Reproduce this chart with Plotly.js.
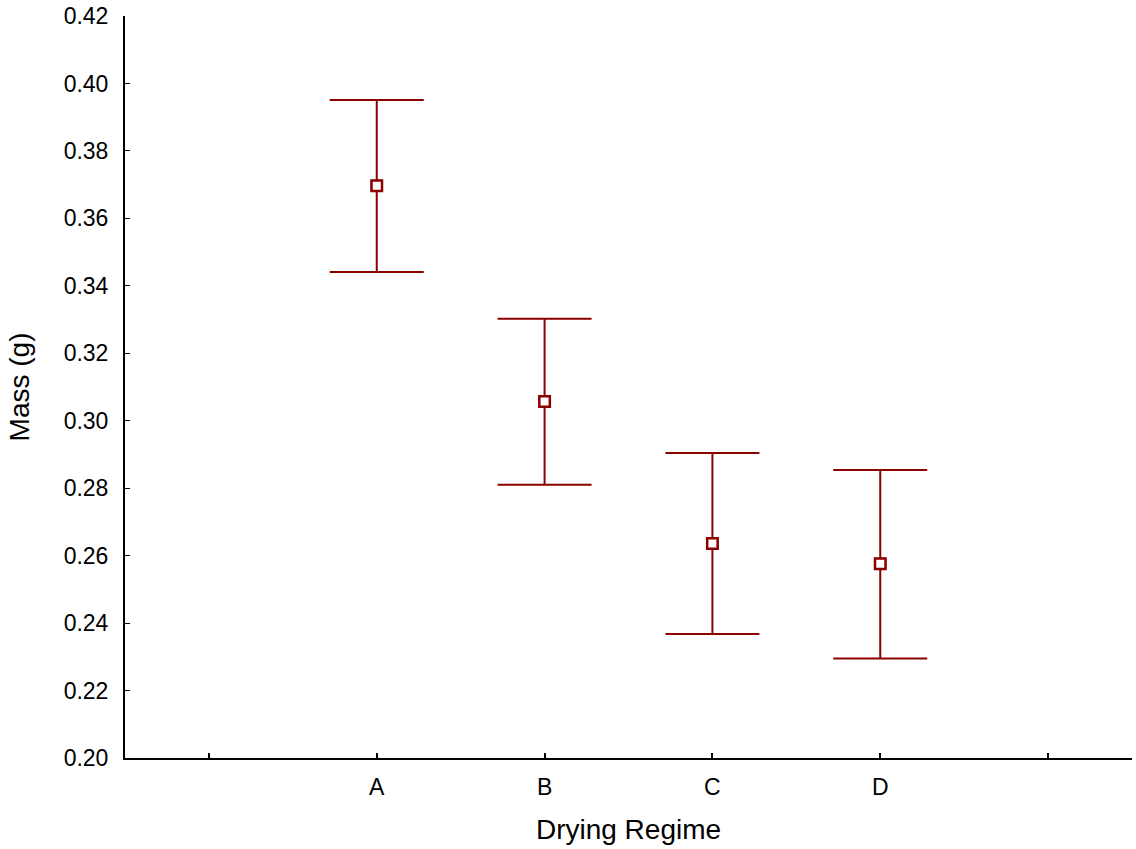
<!DOCTYPE html>
<html>
<head>
<meta charset="utf-8">
<script src="https://cdn.plot.ly/plotly-3.0.1.min.js"></script>
<style>html,body{margin:0;padding:0;background:#fff;}#chart{width:1136px;height:849px;}</style>
</head>
<body>
<div id="chart"></div>
<script>
var categories = ["A", "B", "C", "D"];
var positions = [1, 2, 3, 4];
var means = [0.3697, 0.3057, 0.2636, 0.2576];
var upper = [0.3951, 0.3302, 0.2904, 0.2854];
var lower = [0.3441, 0.2810, 0.2368, 0.2295];
var tickVals = [0, 1, 2, 3, 4, 5];
var tickText = ["", "A", "B", "C", "D", ""];
var yTicks = [0.20, 0.22, 0.24, 0.26, 0.28, 0.30, 0.32, 0.34, 0.36, 0.38, 0.40, 0.42];

var plus = upper.map(function(u, i){ return u - means[i]; });
var minus = lower.map(function(l, i){ return means[i] - l; });
var red = "#8B0000";

var trace = {
  x: positions, y: means, type: "scatter", mode: "markers",
  marker: {symbol: "square-open", size: 11, color: red, line: {width: 2, color: red}},
  error_y: {type: "data", symmetric: false, array: plus, arrayminus: minus, color: red, thickness: 2, width: 47},
  hoverinfo: "skip", showlegend: false
};
var fill = {
  x: positions, y: means, type: "scatter", mode: "markers",
  marker: {symbol: "square", size: 10, color: "#ffffff", line: {width: 2, color: red}},
  hoverinfo: "skip", showlegend: false
};

var font = "Liberation Sans, Arial, sans-serif";
var layout = {
  width: 1136, height: 849,
  margin: {l: 125, r: 4, t: 16, b: 91},
  paper_bgcolor: "#fff", plot_bgcolor: "#fff",
  font: {family: font, size: 23, color: "#000"},
  xaxis: {
    range: [-0.5, 5.5], tickvals: tickVals, ticktext: tickText,
    showgrid: false, zeroline: false, showline: true, linecolor: "#000", linewidth: 2,
    ticks: "inside", ticklen: 5, tickwidth: 2, tickcolor: "#000",
    ticklabelstandoff: 7,
    tickfont: {size: 23, family: font},
    title: {text: "Drying Regime", font: {size: 28, family: font}, standoff: 21}
  },
  yaxis: {
    range: [0.20, 0.42], tickvals: yTicks, tickformat: ".2f",
    showgrid: false, zeroline: false, showline: true, linecolor: "#000", linewidth: 2,
    ticks: "inside", ticklen: 5, tickwidth: 1, tickcolor: "#000",
    ticklabelstandoff: 10,
    tickfont: {size: 23, family: font},
    title: {text: "Mass (g)", font: {size: 28, family: font}, standoff: 26}
  }
};
Plotly.newPlot("chart", [trace, fill], layout, {displayModeBar: false, staticPlot: true});
</script>
</body>
</html>
